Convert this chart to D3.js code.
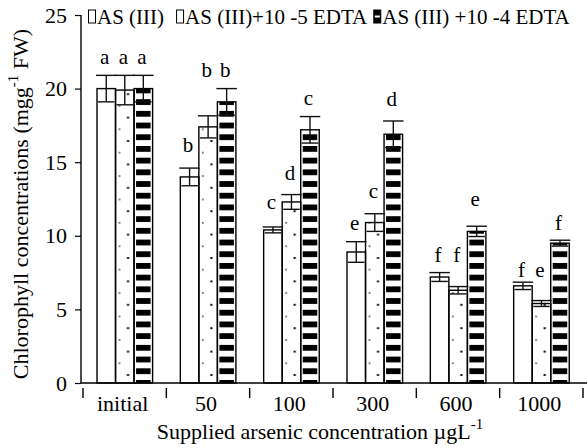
<!DOCTYPE html>
<html lang="en">
<head>
<meta charset="UTF-8">
<style>
body{
	margin: 0;
	background-color: white;
}
svg, svg text{
	font-family: "Liberation Serif", "DejaVu Serif", serif !important;
	fill: black;
}
</style>
<script src="https://d3js.org/d3.v7.min.js"></script>
</head>
<body>
<svg width="587" height="448"></svg>
<script>
// values
const categories = ["initial", "50", "100", "300", "600", "1000"];
const seriesNames = ["AS (III)", "AS (III)+10 -5 EDTA", "AS (III) +10 -4 EDTA"];

const asOnly = [20.0, 14.0, 10.4, 8.9, 7.2, 6.6];
const edta5 = [19.9, 17.4, 12.3, 10.9, 6.3, 5.4];
const edta4 = [20.0, 19.1, 17.2, 16.9, 10.3, 9.5];

const asOnlyErr = [0.9, 0.6, 0.2, 0.7, 0.3, 0.25];
const edta5Err = [1.0, 0.75, 0.5, 0.6, 0.25, 0.2];
const edta4Err = [0.9, 0.9, 0.9, 0.9, 0.35, 0.2];

// significance letters and the level their baseline sits at
const asOnlyLetters = ["a", "b", "c", "e", "f", "f"];
const edta5Letters = ["a", "b", "d", "c", "f", "e"];
const edta4Letters = ["a", "b", "c", "d", "e", "f"];
const asOnlyLetterAt = [21.7, 15.7, 11.8, 10.4, 8.2, 7.2];
const edta5LetterAt = [21.7, 20.8, 13.8, 12.6, 8.2, 7.2];
const edta4LetterAt = [21.7, 20.8, 18.9, 18.8, 12.0, 10.4];

const yTicks = [0, 5, 10, 15, 20, 25];

const serif = "'Liberation Serif', 'DejaVu Serif', serif";
const svg = d3.select("svg").attr("font-family", serif);

const x = d3.scaleBand()
	.domain(categories)
	.range([83, 583])
	.padding(0);

const inner = d3.scaleBand()
	.domain(d3.range(3))
	.range([x.bandwidth() * 0.168, x.bandwidth() * 0.835])
	.padding(0);

const y = d3.scaleLinear()
	.domain([0, 25])
	.range([383, 15]);

const values = [asOnly, edta5, edta4];
const errs = [asOnlyErr, edta5Err, edta4Err];
const letters = [asOnlyLetters, edta5Letters, edta4Letters];
const letterAt = [asOnlyLetterAt, edta5LetterAt, edta4LetterAt];

let bars = [];
categories.forEach(function(c, i) {
	for (let s = 0; s < 3; s++) {
		bars.push({cat: c, s: s, i: i, v: values[s][i], e: errs[s][i],
			letter: letters[s][i], la: letterAt[s][i]});
	}
});

const defs = svg.append("defs");

let stripe = defs.append("pattern")
	.attr("id", "stripes")
	.attr("patternUnits", "userSpaceOnUse")
	.attr("width", 10)
	.attr("height", 11.7)
	.attr("patternTransform", "translate(0," + (y(0) - 3) + ")");
stripe.append("rect").attr("width", 10).attr("height", 11.7).attr("fill", "white");
stripe.append("rect").attr("width", 10).attr("height", 5.8).attr("fill", "black");

// dotted fill, one pattern per bar so the dots line up with the bar edge
bars.filter(function(d) { return d.s == 1; }).forEach(function(d) {
	let p = defs.append("pattern")
		.attr("id", "dots" + d.i)
		.attr("patternUnits", "userSpaceOnUse")
		.attr("width", 40)
		.attr("height", 23.4)
		.attr("patternTransform", "translate(" + (x(d.cat) + inner(1)) + "," + (y(0) - 8) + ")");
	p.append("rect").attr("width", 40).attr("height", 23.4).attr("fill", "white");
	p.append("rect").attr("x", 11.5).attr("y", -1).attr("width", 2).attr("height", 2).attr("fill", "black");
	p.append("rect").attr("x", 11.5).attr("y", 22.4).attr("width", 2).attr("height", 2).attr("fill", "black");
	p.append("rect").attr("x", 3.2).attr("y", 10.9).attr("width", 1.5).attr("height", 1.5).attr("fill", "#333");
});

// bars
let g = svg.append("g");

g.selectAll(".barfill")
	.data(bars)
	.join("rect")
	.attr("class", "barfill")
	.attr("x", function(d) { return x(d.cat) + inner(d.s) + (d.s == 2 ? 2 : 0); })
	.attr("width", function(d) { return inner.bandwidth() - (d.s == 2 ? 4 : 0); })
	.attr("y", function(d) { return y(d.v); })
	.attr("height", function(d) { return y(0) - y(d.v); })
	.attr("fill", function(d) {
		if (d.s == 0) return "white";
		if (d.s == 1) return "url(#dots" + d.i + ")";
		return "url(#stripes)";
	});

g.selectAll(".barline")
	.data(bars)
	.join("rect")
	.attr("class", "barline")
	.attr("x", function(d) { return x(d.cat) + inner(d.s); })
	.attr("width", inner.bandwidth())
	.attr("y", function(d) { return y(d.v); })
	.attr("height", function(d) { return y(0) - y(d.v); })
	.attr("fill", "none")
	.attr("stroke", "black")
	.attr("stroke-width", 1.4);

// error bars
let eb = svg.append("g").attr("stroke", "#111").attr("stroke-width", 1.4);

eb.selectAll(".ev")
	.data(bars)
	.join("line")
	.attr("x1", function(d) { return x(d.cat) + inner(d.s) + inner.bandwidth() / 2; })
	.attr("x2", function(d) { return x(d.cat) + inner(d.s) + inner.bandwidth() / 2; })
	.attr("y1", function(d) { return y(d.v - d.e); })
	.attr("y2", function(d) { return y(d.v + d.e); });

eb.selectAll(".etop")
	.data(bars)
	.join("line")
	.attr("x1", function(d) { return x(d.cat) + inner(d.s) - 1; })
	.attr("x2", function(d) { return x(d.cat) + inner(d.s) + inner.bandwidth() + 1; })
	.attr("y1", function(d) { return y(d.v + d.e); })
	.attr("y2", function(d) { return y(d.v + d.e); });

eb.selectAll(".ebot")
	.data(bars)
	.join("line")
	.attr("x1", function(d) { return x(d.cat) + inner(d.s) + 1; })
	.attr("x2", function(d) { return x(d.cat) + inner(d.s) + inner.bandwidth() - 1; })
	.attr("y1", function(d) { return y(d.v - d.e); })
	.attr("y2", function(d) { return y(d.v - d.e); });

// letters
svg.append("g")
	.selectAll("text")
	.data(bars)
	.join("text")
	.attr("x", function(d) { return x(d.cat) + inner(d.s) + inner.bandwidth() / 2 - 1.5; })
	.attr("y", function(d) { return y(d.la); })
	.attr("text-anchor", "middle")
	.attr("font-family", serif)
	.style("font-size", "21px")
	.text(function(d) { return d.letter; });

// y axis
let yAxis = svg.append("g")
	.attr("transform", "translate(81,0)")
	.call(d3.axisLeft(y).tickValues(yTicks).tickSize(6).tickPadding(8));
yAxis.attr("font-family", serif);
yAxis.select(".domain").attr("d", "M0," + y(25) + "V" + y(0)).attr("stroke-width", 1.4);
yAxis.selectAll(".tick line").attr("stroke-width", 1.2);
yAxis.selectAll("text")
	.attr("font-family", serif)
	.style("font-size", "22px");

// x axis line and tick marks between groups
svg.append("line")
	.attr("x1", 81).attr("x2", 587)
	.attr("y1", y(0)).attr("y2", y(0))
	.attr("stroke", "black")
	.attr("stroke-width", 1.4);

let bounds = categories.map(function(c) { return x(c); }).concat([x.range()[1]]);
svg.append("g")
	.selectAll("line")
	.data(bounds)
	.join("line")
	.attr("x1", function(d) { return d; })
	.attr("x2", function(d) { return d; })
	.attr("y1", y(0) + 5)
	.attr("y2", y(0) + 15)
	.attr("stroke", "black")
	.attr("stroke-width", 1.4);

svg.append("g")
	.selectAll("text")
	.data(categories)
	.join("text")
	.attr("x", function(d) { return x(d) + x.bandwidth() / 2 - 2; })
	.attr("y", 411)
	.attr("text-anchor", "middle")
	.attr("font-family", serif)
	.style("font-size", "22px")
	.text(function(d) { return d; });

// axis titles
let xt = svg.append("text")
	.attr("x", 320)
	.attr("y", 439)
	.attr("text-anchor", "middle")
	.attr("font-family", serif)
	.style("font-size", "22px");
xt.append("tspan").text("Supplied arsenic concentration \u00b5gL");
xt.append("tspan").attr("dy", -10).style("font-size", "15px").text("-1");

let yt = svg.append("text")
	.attr("transform", "translate(28,204) rotate(-90)")
	.attr("text-anchor", "middle")
	.attr("font-family", serif)
	.style("font-size", "22px");
yt.append("tspan").text("Chlorophyll concentrations (mgg");
yt.append("tspan").attr("dy", -10).style("font-size", "15px").text("-1");
yt.append("tspan").attr("dy", 10).text(" FW)");

// legend, items laid out one after another
const legendGaps = [12, 6];
let lx = 88;
seriesNames.forEach(function(name, i) {
	let item = svg.append("g").attr("transform", "translate(" + lx + ",0)");
	item.append("rect")
		.attr("x", 0.5).attr("y", 10)
		.attr("width", 7).attr("height", 13)
		.attr("fill", i == 2 ? "black" : "white")
		.attr("stroke", "black")
		.attr("stroke-width", 1);
	if (i == 2) {
		item.append("rect")
			.attr("x", 1.5).attr("y", 15.5)
			.attr("width", 5).attr("height", 2)
			.attr("fill", "white");
	}
	let t = item.append("text")
		.attr("x", 9)
		.attr("y", 24)
		.attr("font-family", serif)
		.style("font-size", "21px")
		.text(name);
	lx += 9 + t.node().getComputedTextLength() + (legendGaps[i] || 0);
});
</script>
</body>
</html>
